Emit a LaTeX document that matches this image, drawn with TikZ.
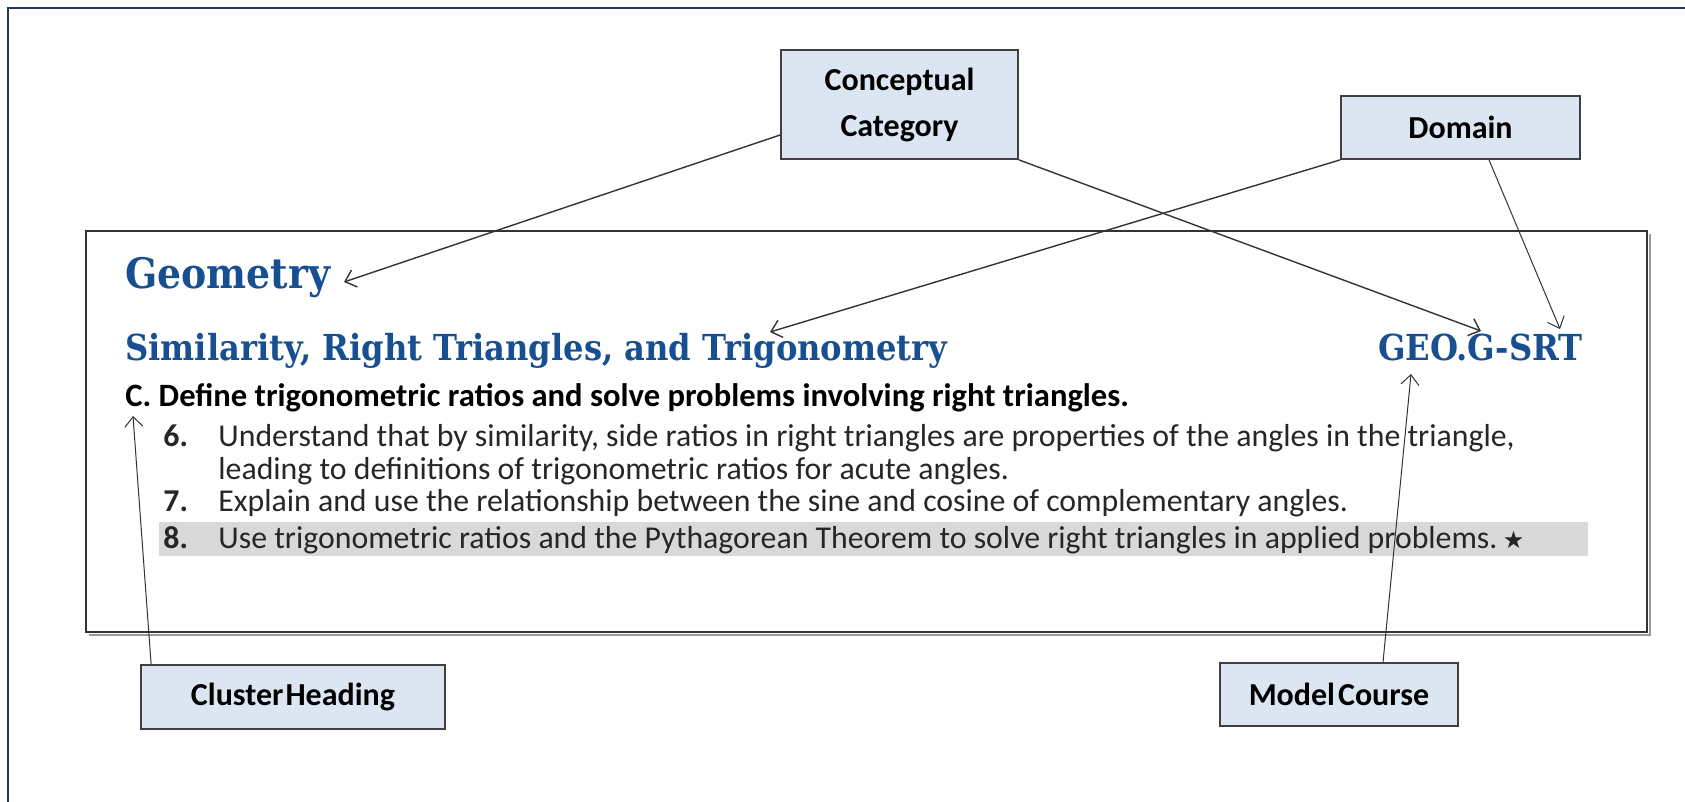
\documentclass[tikz,border=0pt]{standalone}
\usepackage{fontspec}
\setmainfont{Carlito}
\newfontfamily\headfont[FakeStretch=0.9]{DejaVu Serif}
\newfontfamily\symfont{DejaVu Sans}
\usetikzlibrary{arrows.meta}
\definecolor{boxfill}{RGB}{220,230,242}
\definecolor{headblue}{RGB}{23,79,145}
\definecolor{framenavy}{RGB}{31,56,100}
\tikzset{
	labelbox/.style={draw=black!75, line width=0.9pt, fill=boxfill, align=center, inner sep=0pt,
		font=\bfseries\fontsize{16}{23}\selectfont},
	pointer/.style={-{Straight Barb[length=5pt,width=9pt]}, line width=0.7pt, black!80},
	heading/.style={anchor=base west, inner sep=0pt, text=headblue,
		font=\headfont\bfseries\fontsize{17.9}{22}\selectfont},
	itemtext/.style={anchor=base west, inner sep=0pt, text=black!85,
		font=\fontsize{15.9}{19}\selectfont},
	itemnum/.style={itemtext, font=\bfseries\fontsize{15.9}{19}\selectfont}
}

\begin{document}
\begin{tikzpicture}[x=0.5pt,y=-0.5pt]
		\useasboundingbox (0,0) rectangle (1685,802);
		\draw[framenavy, line width=1pt] (1685,8) -- (8,8) -- (8,802);
		% standard box
		\draw[black!40, line width=1.2pt] (89,635) -- (1650,635) -- (1650,234);
		\draw[black!80, line width=0.8pt] (86,231) rectangle (1647,632);
		\fill[black!15] (159,522) rectangle (1588,556);

		\node[heading, font=\headfont\bfseries\fontsize{21}{24}\selectfont] (geom) at (125,288) {Geometry};
		\node[heading] (srt) at (125,360) {Similarity, Right Triangles, and Trigonometry};
		\node[heading, anchor=base east] (code) at (1583,360) {GEO.G-SRT};
		\node[itemnum, text=black, font=\bfseries\fontsize{16.3}{19}\selectfont] (clus) at (125,406) {C.\ Define trigonometric ratios and solve problems involving right triangles.};
		\node[itemnum] (n6) at (163,446) {6.};
		\node[itemtext] (t6) at (218,446) {Understand that by similarity, side ratios in right triangles are properties of the angles in the triangle,};
		\node[itemtext] (t6b) at (218,479) {leading to definitions of trigonometric ratios for acute angles.};
		\node[itemnum] (n7) at (163,511) {7.};
		\node[itemtext] (t7) at (218,511) {Explain and use the relationship between the sine and cosine of complementary angles.};
		\node[itemnum] (n8) at (163,548) {8.};
		\node[itemtext] (t8) at (218,548) {Use trigonometric ratios and the Pythagorean Theorem to solve right triangles in applied problems.\,{\symfont\fontsize{12}{14}\selectfont ★}};

		% label boxes
		\node[labelbox, minimum width=118.5pt, minimum height=54.5pt] (cc) at (899.5,104.5) {Conceptual\\Category};
		\node[labelbox, minimum width=119.5pt, minimum height=31.5pt] (dom) at (1460.5,127.5) {Domain};
		\node[labelbox, minimum width=152pt, minimum height=32pt] (clu) at (293,697) {Cluster\hspace{1pt}Heading};
		\node[labelbox, minimum width=119pt, minimum height=31.5pt] (mod) at (1339,694.5) {Model\hspace{1.5pt}Course};

		\coordinate (geomtip) at (344,282);
		\coordinate (srttip) at (770,332);
		\coordinate (codetipa) at (1481,331);
		\coordinate (codetipb) at (1560,329);
		\coordinate (clustip) at (133,416);
		\coordinate (codetipc) at (1411,374);

		\draw[pointer] ([yshift=-15.25pt]cc.west) -- (geomtip);
		\draw[pointer] (cc.south east) -- (codetipa);
		\draw[pointer] (dom.south west) -- (srttip);
		\draw[pointer, line width=0.5pt] ([xshift=14.25pt]dom.south) -- (codetipb);
		\draw[pointer, line width=0.5pt] ([xshift=5.5pt]clu.north west) -- (clustip);
		\draw[pointer, line width=0.5pt] ([xshift=22pt]mod.north) -- (codetipc);
	\end{tikzpicture}
\end{document}
